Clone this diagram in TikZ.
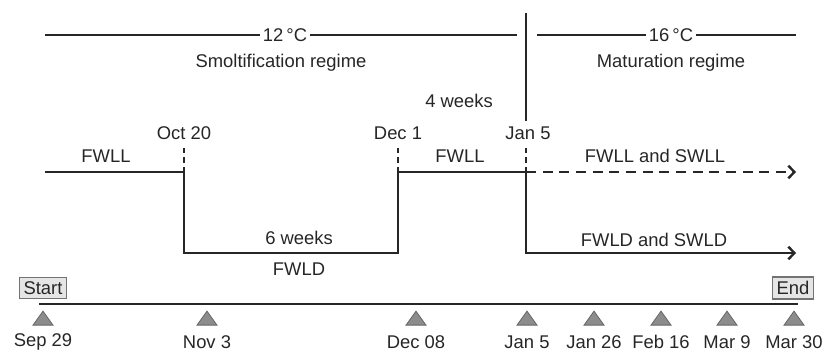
\documentclass[tikz,border=0pt]{standalone}
\usepackage{fontspec}
\setmainfont{Liberation Sans}
\usetikzlibrary{arrows.meta,shapes.geometric}
\begin{document}
\begin{tikzpicture}[x=0.75pt,y=-0.75pt,line width=1.8pt,draw=black!85,text=black!85,
        font=\fontsize{13.8}{16}\selectfont,
        arr/.style={-{Straight Barb[length=4.5pt,width=9.5pt]}},
        tick/.style={dash pattern=on 4pt off 3pt},
        lbl/.style={inner sep=1.5pt},
        endbox/.style={draw=black!55,fill=black!10,line width=0.8pt,inner sep=3.2pt},
        tri/.style={isosceles triangle,isosceles triangle stretches,shape border rotate=90,
            minimum width=15pt,minimum height=10.5pt,inner sep=0pt,fill=black!45,draw=black!60,line width=0.6pt}]
        \useasboundingbox (0,0) rectangle (822,352);
        % temperature regimes
        \node[lbl] (t12) at (285,35) {12\,°C};
        \node[lbl] (t16) at (671,35) {16\,°C};
        \coordinate (t12w) at (45,35);
        \coordinate (t12e) at (517,35);
        \coordinate (t16w) at (537,35);
        \coordinate (t16e) at (796,35);
        \draw (t12w) -- (t12);
        \draw (t12) -- (t12e);
        \draw (t16w) -- (t16);
        \draw (t16) -- (t16e);
        \node (smolt) at (281,63) {Smoltification regime};
        \node (matur) at (671,63) {Maturation regime};
        \coordinate (swtop) at (526,13);
        \coordinate (swbot) at (526,121);
        \draw (swtop) -- (swbot);
        \node (wk4) at (459,101) {4 weeks};
        % light regimes
        \node (oct20) at (184,133) {Oct 20};
        \node (dec1) at (398,133) {Dec 1};
        \node (jan5) at (528,133) {Jan 5};
        \node (fwll1) at (106,156) {FWLL};
        \node (fwll2) at (460,156) {FWLL};
        \node (fwsw) at (655,156) {FWLL and SWLL};
        \node (wk6) at (299,238) {6 weeks};
        \node (fwld) at (299,269) {FWLD};
        \node (fwsd) at (654,240) {FWLD and SWLD};
        \coordinate (s0) at (45,172);
        \coordinate (s1) at (184,172);
        \coordinate (s2) at (184,253);
        \coordinate (s3) at (398,253);
        \coordinate (s4) at (398,172);
        \coordinate (s5) at (526,172);
        \coordinate (s6) at (796,172);
        \coordinate (s7) at (526,253);
        \coordinate (s8) at (796,253);
        \coordinate (k1) at (184,148);
        \coordinate (k2) at (398,148);
        \coordinate (k3) at (526,148);
        \draw (s0) -- (s1) -- (s2) -- (s3) -- (s4) -- (s5);
        \draw[arr,dash pattern=on 7.5pt off 5pt] (s5) -- (s6);
        \draw[arr] (s5) -- (s7) -- (s8);
        \draw[tick] (k1) -- (s1);
        \draw[tick] (k2) -- (s4);
        \draw[tick] (k3) -- (s5);
        % sampling time line
        \node[endbox] (start) at (43,288) {Start};
        \node[endbox] (end) at (793,288) {End};
        \coordinate (b0) at (39,304);
        \coordinate (b1) at (798,304);
        \draw (b0) -- (b1);
        \node[tri] (m1) at (43,320) {};
        \node[tri] (m2) at (207,320) {};
        \node[tri] (m3) at (416,320) {};
        \node[tri] (m4) at (527,320) {};
        \node[tri] (m5) at (594,320) {};
        \node[tri] (m6) at (661,320) {};
        \node[tri] (m7) at (727,320) {};
        \node[tri] (m8) at (794,320) {};
        \node (d1) at (43,342) {Sep 29};
        \node (d2) at (207,342) {Nov 3};
        \node (d3) at (416,342) {Dec 08};
        \node (d4) at (527,342) {Jan 5};
        \node (d5) at (594,342) {Jan 26};
        \node (d6) at (661,342) {Feb 16};
        \node (d7) at (727,342) {Mar 9};
        \node (d8) at (794,342) {Mar 30};
\end{tikzpicture}
\end{document}
